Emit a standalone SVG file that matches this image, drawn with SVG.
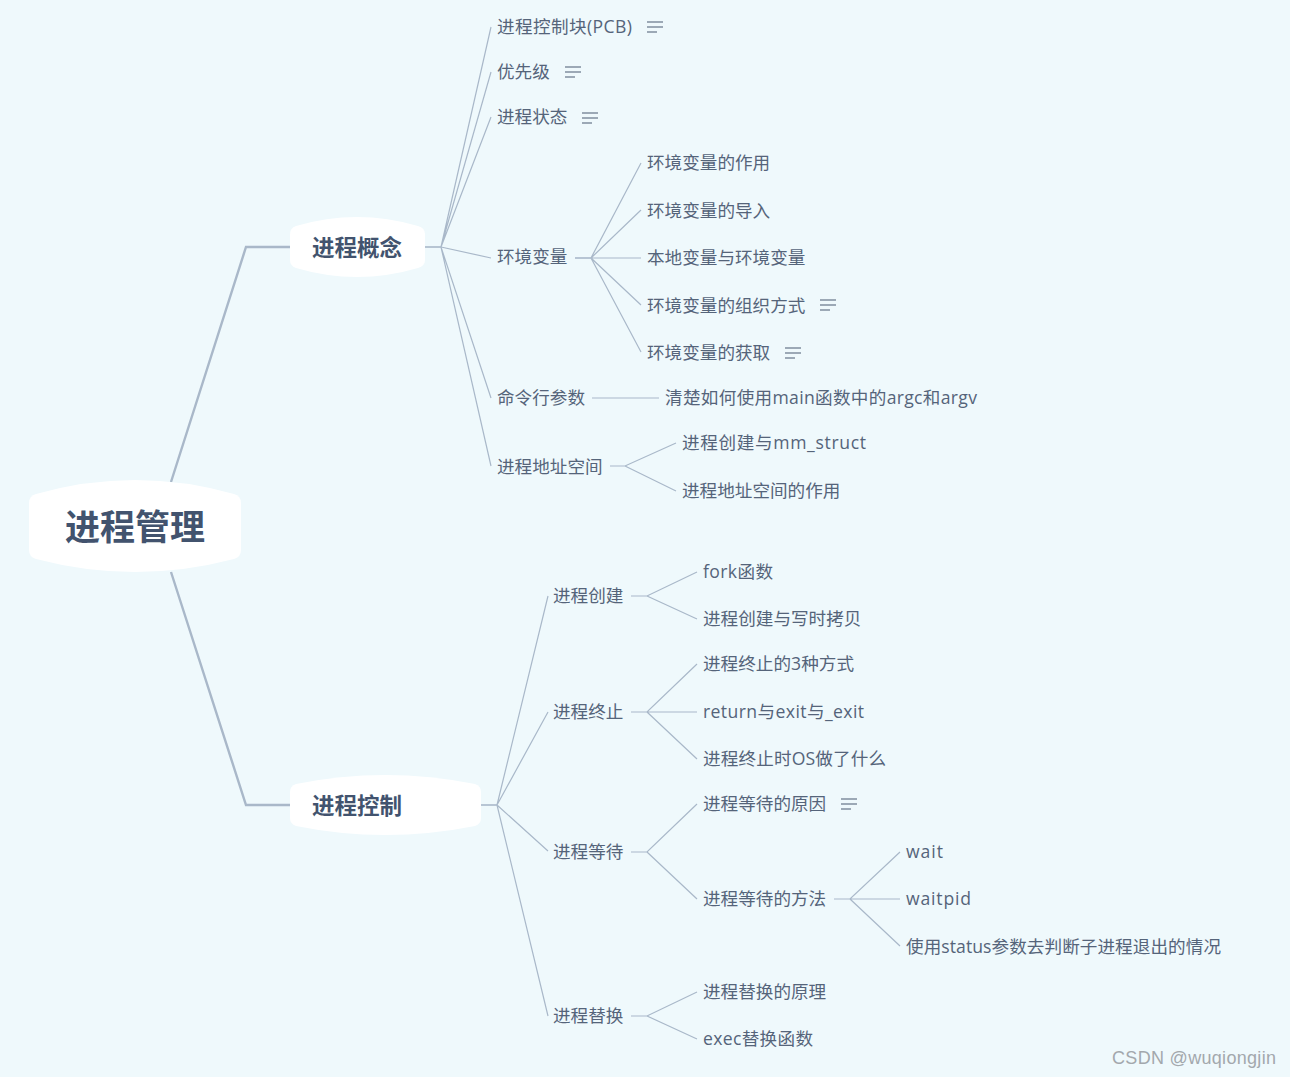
<svg xmlns="http://www.w3.org/2000/svg" width="1290" height="1077" viewBox="0 0 1290 1077">
<style>
text{font-family:"Open Sans","Noto Sans CJK SC",sans-serif;fill:#55647a}
.t{font-size:17.6px;dominant-baseline:auto}
.m{font-family:"Noto Sans CJK SC",sans-serif;font-size:22.5px;font-weight:700;fill:#42536e;text-anchor:middle}
.r{font-family:"Noto Sans CJK SC",sans-serif;font-size:35px;font-weight:700;fill:#42536e;text-anchor:middle}
.n{fill:#fff}
.c path{fill:none;stroke:#a9b8c9;stroke-width:1.2}
.c .h{stroke-width:2.4}
.c .k{stroke-width:1.6}
.i path{fill:none;stroke:#4b5a70;stroke-width:1.2}
.w{font-family:"Liberation Sans",sans-serif;font-size:18px;fill:#a3a8ad}
</style>
<rect width="1290" height="1077" fill="#eff9fc"/>
<g class="c" id="connectors">
<path class="h" d="M171 482L246 247H290"/>
<path class="h" d="M171 572L246 805H290"/>
<path class="k" d="M425 247H441"/>
<path d="M441 247L491 27M441 247L491 72M441 247L491 117M441 247L491 258M441 247L491 398M441 247L491 466"/>
<path class="k" d="M575 258H591"/>
<path d="M591 258L641 163M591 258L641 210M591 258H641M591 258L641 305M591 258L641 352"/>
<path d="M592 398H659"/>
<path d="M610 466H625L676 443M625 466L676 491"/>
<path class="k" d="M481 805H497"/>
<path d="M497 805L548 596M497 805L548 712M497 805L548 851M497 805L548 1016"/>
<path d="M631 596H647L697 572M647 596L697 619"/>
<path d="M631 712H647L697 664M647 712H697M647 712L697 759"/>
<path d="M631 852H647L697 804M647 852L697 899"/>
<path d="M834 899H850L900 852M850 899H900M850 899L900 946"/>
<path d="M631 1016H647L697 992M647 1016L697 1039"/>
</g>
<g id="root"><path class="n" d="M36 494Q135 466 234 494Q241 496 241 503V550Q241 557 234 559Q135 585 36 559Q29 557 29 550V503Q29 496 36 494Z"/><text class="r" x="135" y="540">进程管理</text></g>
<g id="n-gainian"><path class="n" d="M296 226Q357 208 418 226Q425 228 425 234V260Q425 266 418 268Q357 286 296 268Q290 266 290 260V234Q290 228 296 226Z"/><text class="m" x="357" y="256">进程概念</text></g>
<g id="n-kongzhi"><path class="n" d="M296 784Q385 766 475 784Q481 786 481 792V818Q481 824 475 826Q385 844 296 826Q290 824 290 818V792Q290 786 296 784Z"/><text class="m" x="357" y="814">进程控制</text></g>
<g id="n1"><text class="t" x="497" y="33" textLength="135">进程控制块(PCB)</text><g class="i"><path d="M647 22H663M647 27H663M647 32H657"/></g></g>
<g id="n2"><text class="t" x="497" y="78">优先级</text><g class="i"><path d="M565 67H581M565 72H581M565 77H575"/></g></g>
<g id="n3"><text class="t" x="497" y="123">进程状态</text><g class="i"><path d="M582 113H598M582 118H598M582 123H592"/></g></g>
<g id="n4"><text class="t" x="497" y="263">环境变量</text></g>
<g id="n41"><text class="t" x="647" y="169">环境变量的作用</text></g>
<g id="n42"><text class="t" x="647" y="217">环境变量的导入</text></g>
<g id="n43"><text class="t" x="647" y="264">本地变量与环境变量</text></g>
<g id="n44"><text class="t" x="647" y="312">环境变量的组织方式</text><g class="i"><path d="M820 300H836M820 305H836M820 310H830"/></g></g>
<g id="n45"><text class="t" x="647" y="359">环境变量的获取</text><g class="i"><path d="M785 348H801M785 353H801M785 358H795"/></g></g>
<g id="n5"><text class="t" x="497" y="404">命令行参数</text></g>
<g id="n51"><text class="t" x="665" y="404" textLength="312">清楚如何使用main函数中的argc和argv</text></g>
<g id="n6"><text class="t" x="497" y="473">进程地址空间</text></g>
<g id="n61"><text class="t" x="682" y="449" textLength="184">进程创建与mm_struct</text></g>
<g id="n62"><text class="t" x="682" y="497">进程地址空间的作用</text></g>
<g id="n7"><text class="t" x="553" y="602">进程创建</text></g>
<g id="n71"><text class="t" x="703" y="578" textLength="70">fork函数</text></g>
<g id="n72"><text class="t" x="703" y="625">进程创建与写时拷贝</text></g>
<g id="n8"><text class="t" x="553" y="718">进程终止</text></g>
<g id="n81"><text class="t" x="703" y="670" textLength="151">进程终止的3种方式</text></g>
<g id="n82"><text class="t" x="703" y="718" textLength="161">return与exit与_exit</text></g>
<g id="n83"><text class="t" x="703" y="765" textLength="183">进程终止时OS做了什么</text></g>
<g id="n9"><text class="t" x="553" y="858">进程等待</text></g>
<g id="n91"><text class="t" x="703" y="810">进程等待的原因</text><g class="i"><path d="M841 799H857M841 804H857M841 809H851"/></g></g>
<g id="n92"><text class="t" x="703" y="905">进程等待的方法</text></g>
<g id="n921"><text class="t" x="906" y="858" textLength="37">wait</text></g>
<g id="n922"><text class="t" x="906" y="905" textLength="65">waitpid</text></g>
<g id="n923"><text class="t" x="906" y="953" textLength="315">使用status参数去判断子进程退出的情况</text></g>
<g id="n10"><text class="t" x="553" y="1022">进程替换</text></g>
<g id="n101"><text class="t" x="703" y="998">进程替换的原理</text></g>
<g id="n102"><text class="t" x="703" y="1045" textLength="110">exec替换函数</text></g>
<text class="w" x="1112" y="1064" textLength="164">CSDN @wuqiongjin</text>
</svg>
